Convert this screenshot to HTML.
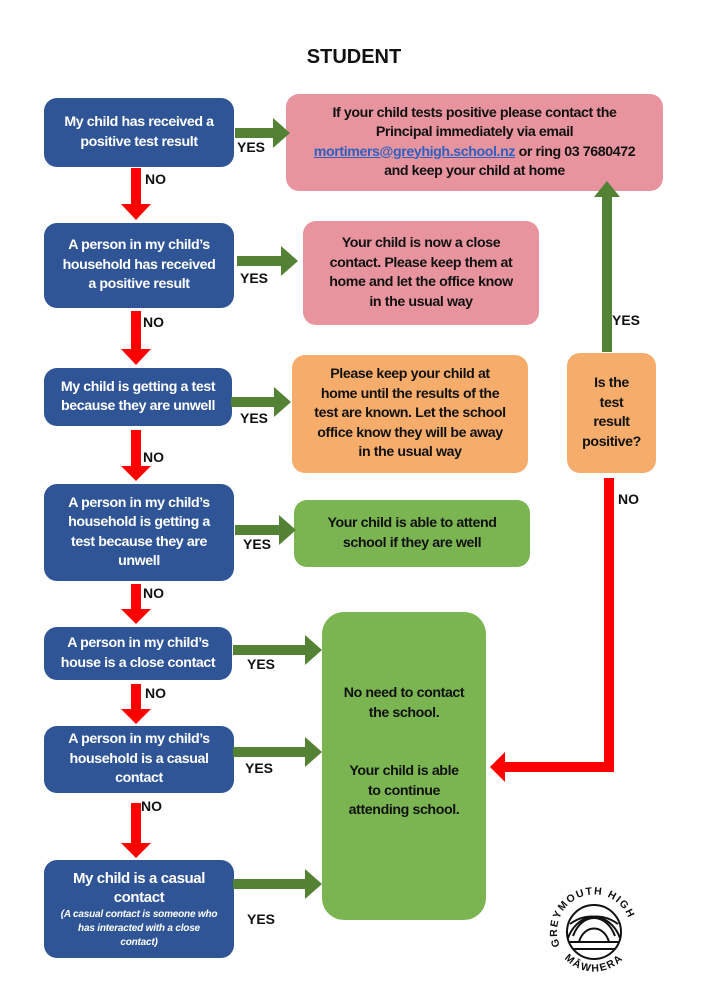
<!DOCTYPE html>
<html><head><meta charset="utf-8"><style>
*{margin:0;padding:0;box-sizing:border-box}
body{width:708px;height:1000px;background:#fff;position:relative;overflow:hidden;font-family:"Liberation Sans",sans-serif;font-weight:bold}
.b{position:absolute;display:flex;align-items:center;justify-content:center;text-align:center;border-radius:13px;font-size:14.2px;line-height:19.5px;letter-spacing:-0.4px;white-space:nowrap}
.blue{background:#2f5597;color:#fff}
.pink{background:#e8949f;color:#111}
.or{background:#f6ad6c;color:#111}
.gr{background:#7ab552;color:#111}
.l{position:absolute;font-size:14px;color:#111}
svg{position:absolute;left:0;top:0;z-index:2}
</style></head><body>
<div class="l" style="left:0;width:708px;text-align:center;top:46px;font-size:20px">STUDENT</div>
<svg width="708" height="1000">
<g fill="#ff0000">
<rect x="131" y="168" width="10" height="36"/><polygon points="121,204 151,204 136,220"/>
<rect x="131" y="311" width="10" height="38"/><polygon points="121,349 151,349 136,365"/>
<rect x="131" y="430" width="10" height="36"/><polygon points="121,466 151,466 136,481"/>
<rect x="131" y="584" width="10" height="25"/><polygon points="121,609 151,609 136,624"/>
<rect x="131" y="684" width="10" height="25"/><polygon points="121,709 151,709 136,724"/>
<rect x="131" y="803" width="10" height="40"/><polygon points="121,843 151,843 136,858"/>
<rect x="604" y="478" width="10" height="294"/>
<rect x="505" y="762" width="109" height="10"/><polygon points="505,752 505,782 490,767"/>
</g>
<g fill="#548235">
<rect x="235" y="128" width="38" height="10"/><polygon points="273,118 273,148 290,133"/>
<rect x="237" y="256" width="44" height="10"/><polygon points="281,246 281,276 298,261"/>
<rect x="231" y="397" width="43" height="10"/><polygon points="274,387 274,417 291,402"/>
<rect x="235" y="525" width="44" height="10"/><polygon points="279,515 279,545 296,530"/>
<rect x="233" y="645" width="72" height="10"/><polygon points="305,635 305,665 322,650"/>
<rect x="233" y="747" width="72" height="10"/><polygon points="305,737 305,767 322,752"/>
<rect x="233" y="879" width="72" height="10"/><polygon points="305,869 305,899 322,884"/>
<rect x="602" y="196" width="10" height="156"/><polygon points="594,197 620,197 607,181"/>
</g>
<defs><path id="tp" d="M-34,14 A37,37 0 1,1 34,14"/><path id="bp" d="M-30,26 A40,40 0 0,0 30,26"/></defs>
<g transform="translate(594,932)">
<g fill="none" stroke="#111" stroke-width="2">
<circle r="27"/>
<path d="M-25,10 H25 M-21,17 H21 M-26,6 C-18,-16 5,-22 24,-8 M26,6 C18,-16 -5,-22 -24,-8 M-15,10 C-10,-8 10,-8 15,10 M-21,4 C-12,-20 12,-20 21,4"/>
</g>
<text font-size="10.5" fill="#111" font-family="Liberation Sans" font-weight="bold" letter-spacing="1.5"><textPath href="#tp">GREYMOUTH HIGH</textPath></text>
<text font-size="10.5" fill="#111" font-family="Liberation Sans" font-weight="bold" letter-spacing="1.5"><textPath href="#bp" startOffset="50%" text-anchor="middle">MĀWHERA</textPath></text>
</g>
</svg>
<div class="b blue" style="left:44px;top:98px;width:190px;height:69px"><div>My child has received a<br>positive test result</div></div>
<div class="b blue" style="left:44px;top:223px;width:190px;height:85px"><div>A person in my child’s<br>household has received<br>a positive result</div></div>
<div class="b blue" style="left:44px;top:368px;width:188px;height:58px"><div>My child is getting a test<br>because they are unwell</div></div>
<div class="b blue" style="left:44px;top:484px;width:190px;height:97px"><div>A person in my child’s<br>household is getting a<br>test because they are<br>unwell</div></div>
<div class="b blue" style="left:44px;top:627px;width:188px;height:53px"><div>A person in my child’s<br>house is a close contact</div></div>
<div class="b blue" style="left:44px;top:726px;width:190px;height:67px"><div>A person in my child’s<br>household is a casual<br>contact</div></div>
<div class="b blue" style="left:44px;top:860px;width:190px;height:98px"><div><div style="font-size:15px">My child is a casual<br>contact</div><div style="font-size:10px;line-height:14px;font-style:italic;letter-spacing:-0.2px">(A casual contact is someone who<br>has interacted with a close<br>contact)</div></div></div>
<div class="b pink" style="left:286px;top:94px;width:377px;height:97px"><div>If your child tests positive please contact the<br>Principal immediately via email<br><u style="color:#2f5fc0">mortimers@greyhigh.school.nz</u> or ring 03 7680472<br>and keep your child at home</div></div>
<div class="b pink" style="left:303px;top:221px;width:236px;height:104px"><div>Your child is now a close<br>contact. Please keep them at<br>home and let the office know<br>in the usual way</div></div>
<div class="b or" style="left:292px;top:355px;width:236px;height:118px"><div>Please keep your child at<br>home until the results of the<br>test are known. Let the school<br>office know they will be away<br>in the usual way</div></div>
<div class="b gr" style="left:294px;top:500px;width:236px;height:67px"><div>Your child is able to attend<br>school if they are well</div></div>
<div class="b or" style="left:567px;top:353px;width:89px;height:120px"><div>Is the<br>test<br>result<br>positive?</div></div>
<div class="b gr" style="left:322px;top:612px;width:164px;height:308px;border-radius:22px;align-items:flex-start;padding-top:72px"><div>No need to contact<br>the school.<br><br><br>Your child is able<br>to continue<br>attending school.</div></div>
<div class="l" style="left:237px;top:139px">YES</div>
<div class="l" style="left:145px;top:171px">NO</div>
<div class="l" style="left:240px;top:270px">YES</div>
<div class="l" style="left:143px;top:314px">NO</div>
<div class="l" style="left:240px;top:410px">YES</div>
<div class="l" style="left:143px;top:449px">NO</div>
<div class="l" style="left:243px;top:536px">YES</div>
<div class="l" style="left:143px;top:585px">NO</div>
<div class="l" style="left:247px;top:656px">YES</div>
<div class="l" style="left:145px;top:685px">NO</div>
<div class="l" style="left:245px;top:760px">YES</div>
<div class="l" style="left:141px;top:798px">NO</div>
<div class="l" style="left:247px;top:911px">YES</div>
<div class="l" style="left:612px;top:312px">YES</div>
<div class="l" style="left:618px;top:491px">NO</div>
</body></html>
